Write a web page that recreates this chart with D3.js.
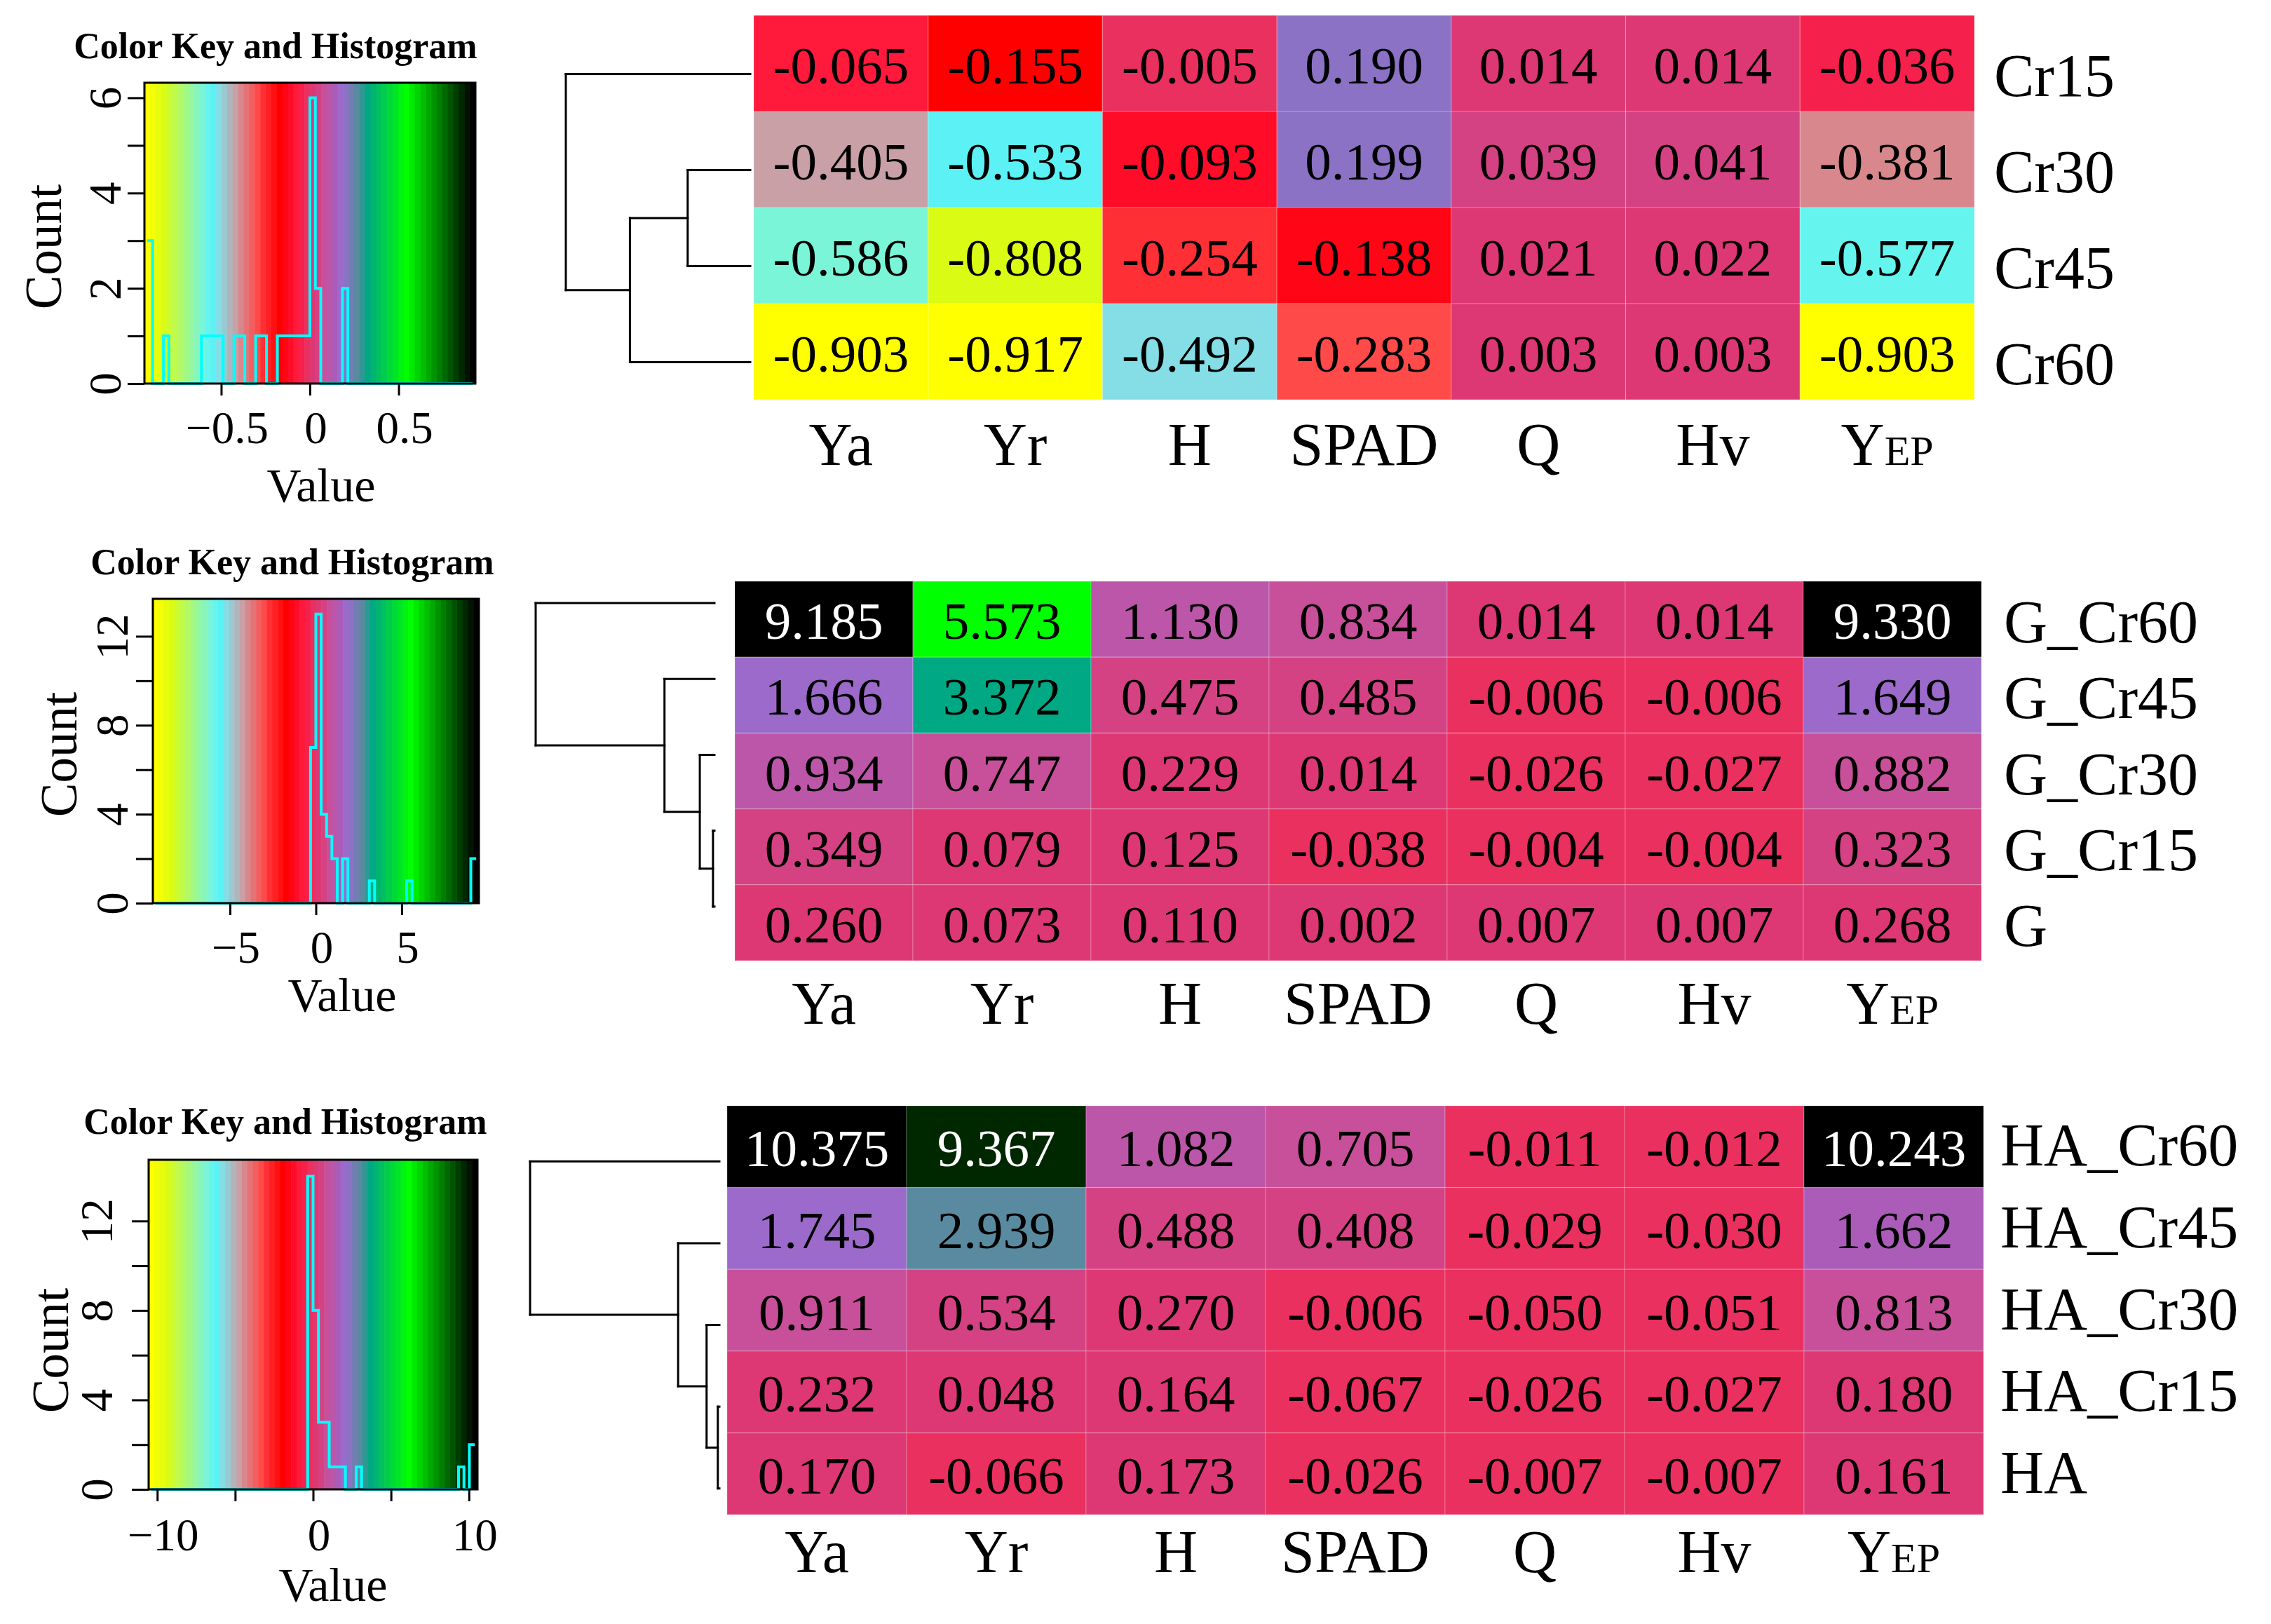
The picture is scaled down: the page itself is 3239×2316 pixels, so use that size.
<!DOCTYPE html>
<html>
<head>
<meta charset="utf-8">
<title>Heatmaps with colour key</title>
<style>
    body {
        margin: 0;
        padding: 0;
        background: white;
    }

    svg text {
        font-family: "Liberation Serif", "Times New Roman", serif;
    }
</style>
</head>
<body>
<div id="chart"></div>
<script src="https://d3js.org/d3.v7.min.js"></script>
<script>
    // ---- data ----
    var traits = ["Ya", "Yr", "H", "SPAD", "Q", "Hv", "YEP"];

    var rowsCr = ["Cr15", "Cr30", "Cr45", "Cr60"];
    var valuesCr = [
        [-0.065, -0.155, -0.005, 0.190, 0.014, 0.014, -0.036],
        [-0.405, -0.533, -0.093, 0.199, 0.039, 0.041, -0.381],
        [-0.586, -0.808, -0.254, -0.138, 0.021, 0.022, -0.577],
        [-0.903, -0.917, -0.492, -0.283, 0.003, 0.003, -0.903]
    ];

    var rowsG = ["G_Cr60", "G_Cr45", "G_Cr30", "G_Cr15", "G"];
    var valuesG = [
        [9.185, 5.573, 1.130, 0.834, 0.014, 0.014, 9.330],
        [1.666, 3.372, 0.475, 0.485, -0.006, -0.006, 1.649],
        [0.934, 0.747, 0.229, 0.014, -0.026, -0.027, 0.882],
        [0.349, 0.079, 0.125, -0.038, -0.004, -0.004, 0.323],
        [0.260, 0.073, 0.110, 0.002, 0.007, 0.007, 0.268]
    ];

    var rowsHA = ["HA_Cr60", "HA_Cr45", "HA_Cr30", "HA_Cr15", "HA"];
    var valuesHA = [
        [10.375, 9.367, 1.082, 0.705, -0.011, -0.012, 10.243],
        [1.745, 2.939, 0.488, 0.408, -0.029, -0.030, 1.662],
        [0.911, 0.534, 0.270, -0.006, -0.050, -0.051, 0.813],
        [0.232, 0.048, 0.164, -0.067, -0.026, -0.027, 0.180],
        [0.170, -0.066, 0.173, -0.026, -0.007, -0.007, 0.161]
    ];

    var keyTicksCr = [-0.5, 0, 0.5];
    var keyLabelsCr = [-0.5, 0, 0.5];
    var countTicksCr = [0, 1, 2, 3, 4, 5, 6];
    var countLabelsCr = [0, 2, 4, 6];

    var keyTicksG = [-5, 0, 5];
    var keyLabelsG = [-5, 0, 5];
    var countTicksG = [0, 2, 4, 6, 8, 10, 12];
    var countLabelsG = [0, 4, 8, 12];

    var keyTicksHA = [-10, -5, 0, 5, 10];
    var keyLabelsHA = [-10, 0, 10];
    var countTicksHA = [0, 2, 4, 6, 8, 10, 12];
    var countLabelsHA = [0, 4, 8, 12];

    var nBins = 60;

    // colour ramp (yellow - cyan - red - purple - green - black), position = colour index / (nBins - 1)
    var rampStops = [0, 0.0508, 0.1695, 0.1864, 0.2034, 0.2203, 0.2712, 0.2881, 0.339, 0.356, 0.4068, 0.4237,
        0.4407, 0.4576, 0.4746, 0.4915, 0.5085, 0.5254, 0.5424, 0.5593, 0.5763, 0.5932, 0.6102, 0.644, 0.678,
        0.7966, 0.9661, 1];
    var rampColours = ["#ffff00", "#dafc14", "#7af5d8", "#66f5ee", "#5cf2f5", "#85dde6", "#c8a0a6", "#d8888c",
        "#ff4a4a", "#ff3035", "#ff0000", "#ff0515", "#ff0d28", "#ff1a3c", "#f5204c", "#ea305f", "#de3874",
        "#d44284", "#c8509a", "#bc56a8", "#aa5cb8", "#9c6aca", "#8b72c4", "#5a8aa0", "#00a884", "#00ff00",
        "#002800", "#000000"];

    var ramp = d3.scaleLinear().domain(rampStops).range(rampColours).interpolate(d3.interpolateRgb);
    var palette = d3.range(nBins).map(function (i) { return ramp(i / (nBins - 1)); });

    var panels = [
        {
            rows: rowsCr, values: valuesCr,
            keyTicks: keyTicksCr, keyLabels: keyLabelsCr, countTicks: countTicksCr, countLabels: countLabelsCr,
            key: { titleX: 393, titleY: 83, x0: 206, x1: 678, y0: 118, y1: 547, yLabX: 172, countX: 87, countY: 352, xLabY: 632, valueX: 458, valueY: 715 },
            map: { x0: 1075, x1: 2816, y0: 22, y1: 570, colLabY: 663, rowLabX: 2844, rowLabDy: 46, rootX: 807, leafX: 1070, leafDy: 15 }
        },
        {
            rows: rowsG, values: valuesG,
            keyTicks: keyTicksG, keyLabels: keyLabelsG, countTicks: countTicksG, countLabels: countLabelsG,
            key: { titleX: 417, titleY: 819, x0: 218, x1: 683, y0: 854, y1: 1288, yLabX: 182, countX: 109, countY: 1076, xLabY: 1373, valueX: 488, valueY: 1442 },
            map: { x0: 1048, x1: 2826, y0: 829, y1: 1370, colLabY: 1460, rowLabX: 2858, rowLabDy: 33, rootX: 764, leafX: 1019, leafDy: -23 }
        },
        {
            rows: rowsHA, values: valuesHA,
            keyTicks: keyTicksHA, keyLabels: keyLabelsHA, countTicks: countTicksHA, countLabels: countLabelsHA,
            key: { titleX: 407, titleY: 1617, x0: 212, x1: 681, y0: 1654, y1: 2124, yLabX: 160, countX: 97, countY: 1926, xLabY: 2211, valueX: 475, valueY: 2283 },
            map: { x0: 1037, x1: 2829, y0: 1577, y1: 2160, colLabY: 2242, rowLabX: 2853, rowLabDy: 27, rootX: 756, leafX: 1026, leafDy: 21 }
        }
    ];

    var width = 3239,
        height = 2316;

    var svg = d3.select("#chart")
        .append("svg")
        .attr("width", width)
        .attr("height", height);

    svg.append("rect")
        .attr("width", width)
        .attr("height", height)
        .attr("fill", "white");

    panels.forEach(drawPanel);

    function minusSign(v) {
        return String(v).replace("-", "\u2212");
    }

    // complete linkage, euclidean distance (like hclust(dist(x)))
    function cluster(values) {
        var dist = function (a, b) {
            return Math.sqrt(d3.sum(a, function (v, i) { return (v - b[i]) * (v - b[i]); }));
        };
        var active = values.map(function (v, i) { return { leaves: [i], height: 0, index: i }; });
        while (active.length > 1) {
            var best = null;
            for (var i = 0; i < active.length; i++) {
                for (var j = i + 1; j < active.length; j++) {
                    var d = 0;
                    active[i].leaves.forEach(function (a) {
                        active[j].leaves.forEach(function (b) {
                            d = Math.max(d, dist(values[a], values[b]));
                        });
                    });
                    if (!best || d < best.d) best = { i: i, j: j, d: d };
                }
            }
            var node = {
                leaves: active[best.i].leaves.concat(active[best.j].leaves),
                height: best.d,
                children: [active[best.i], active[best.j]]
            };
            active.splice(best.j, 1);
            active.splice(best.i, 1);
            active.push(node);
        }
        return active[0];
    }

    function drawPanel(p) {
        var all = d3.merge(p.values);
        var maxAbs = d3.max(all, function (v) { return Math.abs(v); });
        var lo = -maxAbs, hi = maxAbs, range = hi - lo;

        function binOf(v) {
            return Math.max(0, Math.min(nBins - 1, Math.floor((v - lo) / range * nBins)));
        }

        // ---------- colour key & histogram ----------
        var k = p.key;
        var pad = range / (2 * (nBins - 1));
        var kx = d3.scaleLinear().domain([lo - pad, hi + pad]).range([k.x0, k.x1]);

        var counts = d3.range(nBins).map(function () { return 0; });
        all.forEach(function (v) { counts[binOf(v)] += 1; });
        var maxCount = d3.max(counts);
        var ky = d3.scaleLinear().domain([0, maxCount / 0.95]).range([k.y1, k.y0]);

        var key = svg.append("g");

        key.append("text")
            .attr("x", k.titleX)
            .attr("y", k.titleY)
            .attr("text-anchor", "middle")
            .attr("font-weight", "bold")
            .attr("font-size", 52)
            .text("Color Key and Histogram");

        key.append("g")
            .selectAll("rect")
            .data(palette)
            .enter()
            .append("rect")
            .attr("x", function (c, i) { return kx(lo + i * range / (nBins - 1) - pad); })
            .attr("y", k.y0)
            .attr("width", kx(lo + 2 * pad) - kx(lo) + 0.6)
            .attr("height", k.y1 - k.y0)
            .attr("fill", function (c) { return c; });

        var histPts = counts.map(function (c, i) { return [lo + i * range / nBins, c]; });
        histPts.push([hi, counts[nBins - 1]]);

        key.append("path")
            .datum(histPts)
            .attr("fill", "none")
            .attr("stroke", "#00ffff")
            .attr("stroke-width", 4)
            .attr("d", d3.line()
                .x(function (d) { return kx(d[0]); })
                .y(function (d) { return ky(d[1]); })
                .curve(d3.curveStepAfter));

        key.append("rect")
            .attr("x", k.x0)
            .attr("y", k.y0)
            .attr("width", k.x1 - k.x0)
            .attr("height", k.y1 - k.y0)
            .attr("fill", "none")
            .attr("stroke", "black")
            .attr("stroke-width", 3);

        var xAxis = key.append("g")
            .attr("transform", "translate(0," + k.y1 + ")")
            .call(d3.axisBottom(kx)
                .tickValues(p.keyTicks)
                .tickSize(17)
                .tickSizeOuter(0)
                .tickFormat(function (v) { return p.keyLabels.indexOf(v) >= 0 ? minusSign(v) : ""; }));
        xAxis.select(".domain").remove();
        xAxis.selectAll("line").attr("stroke", "black").attr("stroke-width", 3);
        xAxis.selectAll("text")
            .attr("fill", "black")
            .attr("font-size", 65)
            .attr("y", k.xLabY - k.y1)
            .attr("dy", 0)
            .attr("dx", 8);

        var yAxis = key.append("g")
            .attr("transform", "translate(" + k.x0 + ",0)")
            .call(d3.axisLeft(ky)
                .tickValues(p.countTicks)
                .tickSize(24)
                .tickSizeOuter(0)
                .tickFormat(function (v) { return p.countLabels.indexOf(v) >= 0 ? String(v) : ""; }));
        yAxis.select(".domain").remove();
        yAxis.selectAll("line").attr("stroke", "black").attr("stroke-width", 3);
        yAxis.selectAll("text")
            .attr("fill", "black")
            .attr("font-size", 65)
            .attr("x", 0)
            .attr("dy", 0)
            .attr("text-anchor", "middle")
            .attr("transform", "translate(" + (k.yLabX - k.x0) + ",0) rotate(-90)");

        key.append("text")
            .attr("transform", "translate(" + k.countX + "," + k.countY + ") rotate(-90)")
            .attr("text-anchor", "middle")
            .attr("font-size", 73)
            .text("Count");

        key.append("text")
            .attr("x", k.valueX)
            .attr("y", k.valueY)
            .attr("text-anchor", "middle")
            .attr("font-size", 68)
            .text("Value");

        // ---------- heatmap ----------
        var m = p.map;
        var xs = d3.scaleBand().domain(traits).range([m.x0, m.x1]);
        var ys = d3.scaleBand().domain(p.rows).range([m.y0, m.y1]);

        var cells = [];
        p.values.forEach(function (row, r) {
            row.forEach(function (v, c) {
                cells.push({ row: p.rows[r], col: traits[c], value: v });
            });
        });

        var hm = svg.append("g");

        hm.selectAll("rect")
            .data(cells)
            .enter()
            .append("rect")
            .attr("x", function (d) { return xs(d.col); })
            .attr("y", function (d) { return ys(d.row); })
            .attr("width", xs.bandwidth())
            .attr("height", ys.bandwidth())
            .attr("fill", function (d) { return palette[binOf(d.value)]; })
            .attr("stroke", "rgba(255,255,255,0.18)")
            .attr("stroke-width", 1.5);

        hm.selectAll("text.cell")
            .data(cells)
            .enter()
            .append("text")
            .attr("class", "cell")
            .attr("x", function (d) { return xs(d.col) + xs.bandwidth() / 2; })
            .attr("y", function (d) { return ys(d.row) + ys.bandwidth() / 2 + 28; })
            .attr("text-anchor", "middle")
            .attr("font-size", 75)
            .attr("fill", function (d) { return binOf(d.value) / (nBins - 1) > 0.9 ? "white" : "black"; })
            .text(function (d) { return d.value.toFixed(3); });

        // column labels
        hm.selectAll("text.col")
            .data(traits)
            .enter()
            .append("text")
            .attr("class", "col")
            .attr("x", function (d) { return xs(d) + xs.bandwidth() / 2; })
            .attr("y", m.colLabY)
            .attr("text-anchor", "middle")
            .attr("font-size", 86)
            .each(function (d) {
                var t = d3.select(this);
                if (d === "YEP") {
                    t.append("tspan").text("Y");
                    t.append("tspan").attr("font-size", 60).text("EP");
                } else {
                    t.text(d);
                }
            });

        // row labels
        hm.selectAll("text.row")
            .data(p.rows)
            .enter()
            .append("text")
            .attr("class", "row")
            .attr("x", m.rowLabX)
            .attr("y", function (d) { return ys(d) + ys.bandwidth() / 2 + m.rowLabDy; })
            .attr("font-size", 86)
            .text(function (d) { return d; });

        // ---------- row dendrogram ----------
        var root = cluster(p.values);
        var dx = d3.scaleLinear().domain([0, root.height]).range([m.leafX, m.rootX]);

        function posY(node) {
            if (!node.children) return ys(p.rows[node.index]) + ys.bandwidth() / 2 + m.leafDy;
            return (posY(node.children[0]) + posY(node.children[1])) / 2;
        }

        var segs = [];
        (function walk(node) {
            if (!node.children) return;
            var x = dx(node.height);
            var ya = posY(node.children[0]), yb = posY(node.children[1]);
            segs.push([x, ya, x, yb]);
            node.children.forEach(function (ch) {
                var y = posY(ch);
                segs.push([x, y, dx(ch.height), y]);
                walk(ch);
            });
        })(root);

        svg.append("g")
            .selectAll("line")
            .data(segs)
            .enter()
            .append("line")
            .attr("x1", function (d) { return d[0]; })
            .attr("y1", function (d) { return d[1]; })
            .attr("x2", function (d) { return d[2]; })
            .attr("y2", function (d) { return d[3]; })
            .attr("stroke", "black")
            .attr("stroke-width", 3)
            .attr("stroke-linecap", "square");
    }
</script>
</body>
</html>
